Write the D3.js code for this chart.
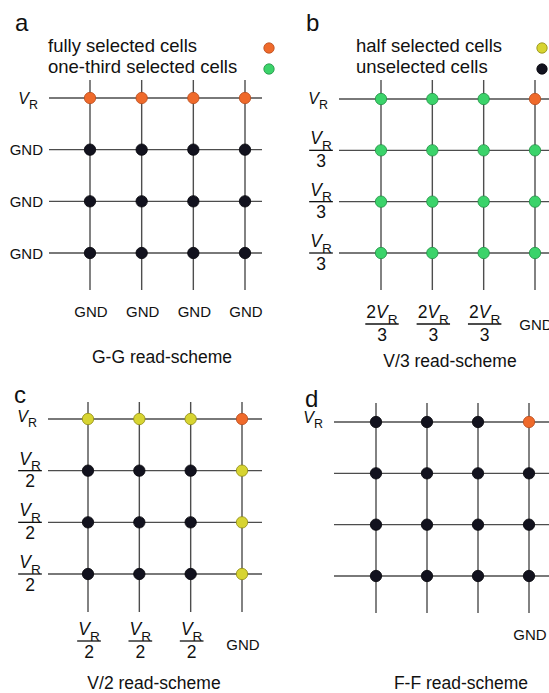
<!DOCTYPE html>
<html>
<head>
<meta charset="utf-8">
<script src="https://cdn.jsdelivr.net/npm/d3@7/dist/d3.min.js"></script>
<style>
  html, body { margin: 0; padding: 0; background: #fff; }
  svg { display: block; font-family: "Liberation Sans", Arial, Helvetica, sans-serif; }
</style>
</head>
<body>
<svg id="chart" width="549" height="693"></svg>
<script>
// Cell states per crossbar: F = fully selected, T = one-third selected,
// H = half selected, U = unselected (rows top to bottom, columns left to right)
const cellsA = ["FFFF", "UUUU", "UUUU", "UUUU"];
const cellsB = ["TTTF", "TTTT", "TTTT", "TTTT"];
const cellsC = ["HHHF", "UUUH", "UUUH", "UUUH"];
const cellsD = ["UUUF", "UUUU", "UUUU", "UUUU"];

// Word-line (row) and bit-line (column) voltages
const rowLabelsA = ["V_R", "GND", "GND", "GND"];
const rowLabelsB = ["V_R", "V_R/3", "V_R/3", "V_R/3"];
const rowLabelsC = ["V_R", "V_R/2", "V_R/2", "V_R/2"];
const rowLabelsD = ["V_R", "", "", ""];
const colLabelsA = ["GND", "GND", "GND", "GND"];
const colLabelsB = ["2V_R/3", "2V_R/3", "2V_R/3", "GND"];
const colLabelsC = ["V_R/2", "V_R/2", "V_R/2", "GND"];
const colLabelsD = ["", "", "", "GND"];

const panelLetters = ["a", "b", "c", "d"];
const schemeTitles = ["G-G read-scheme", "V/3 read-scheme", "V/2 read-scheme", "F-F read-scheme"];

const legendStates = ["F", "T", "H", "U"];
const legendLabels = ["fully selected cells", "one-third selected cells", "half selected cells", "unselected cells"];

// State colours
const stateColor = d3.scaleOrdinal()
  .domain(["F", "T", "H", "U"])
  .range(["#ef6a2b", "#3bd36a", "#d7d431", "#12121e"]);
const stateStroke = d3.scaleOrdinal()
  .domain(["F", "T", "H", "U"])
  .range(["#b84b1c", "#1f8f43", "#8f8b12", "#05050a"]);

const svg = d3.select("#chart");
const LINE = "#4d4d4d";

// Geometry of each crossbar panel
const panels = [
  { cells: cellsA, rows: rowLabelsA, cols: colLabelsA, x: [90, 245], y: [98, 253],
    left: 49, right: 262, top: 80, bottom: 290, vrDy: 6,
    colBar: 324, colText: 317, title: [162, 363], letter: [15, 31] },
  { cells: cellsB, rows: rowLabelsB, cols: colLabelsB, x: [381, 535], y: [99, 253],
    left: 339, right: 570, top: 80, bottom: 290, vrDy: 5,
    colBar: 324, colText: 330, title: [450, 367], letter: [306, 31] },
  { cells: cellsC, rows: rowLabelsC, cols: colLabelsC, x: [88, 242], y: [419, 574],
    left: 48, right: 262, top: 402, bottom: 612, vrDy: 3,
    colBar: 641, colText: 650, title: [154, 689], letter: [14, 403] },
  { cells: cellsD, rows: rowLabelsD, cols: colLabelsD, x: [376, 529], y: [422, 576],
    left: 334, right: 570, top: 403, bottom: 613, vrDy: 1,
    colBar: 641, colText: 640, title: [461, 689], letter: [305, 407] }
];

// Writes an expression such as "V_R" or "2V_R" into a text element
function writeVoltage(text, expr, size) {
  const m = expr.match(/^(\d*)V_R$/);
  if (m[1]) text.append("tspan").text(m[1]);
  text.append("tspan").attr("font-style", "italic").text("V");
  text.append("tspan").attr("font-size", size * 0.78).attr("dy", size * 0.32).text("R");
}

// Draws a label centred on (cx, y); fractions put their bar at y
function drawLabel(g, label, cx, y, opts) {
  if (!label) return;
  const size = opts.size;
  if (label === "GND") {
    g.append("text").attr("x", cx).attr("y", opts.plainY)
      .attr("text-anchor", opts.anchor || "middle")
      .attr("font-size", opts.gndSize).attr("fill", "#111").text("GND");
    return;
  }
  if (label.includes("/")) {
    const [num, den] = label.split("/");
    const t = g.append("text").attr("x", cx).attr("y", y - 6)
      .attr("text-anchor", "middle").attr("font-size", size).attr("fill", "#111");
    writeVoltage(t, num, size);
    const w = t.node().getBBox().width + 2;
    g.append("line").attr("x1", cx - w / 2).attr("x2", cx + w / 2)
      .attr("y1", y).attr("y2", y).attr("stroke", "#111").attr("stroke-width", 1.3);
    g.append("text").attr("x", cx).attr("y", y + 16.5)
      .attr("text-anchor", "middle").attr("font-size", size).attr("fill", "#111").text(den);
    return;
  }
  const t = g.append("text").attr("x", cx).attr("y", y)
    .attr("text-anchor", opts.anchor || "middle").attr("font-size", opts.vrSize).attr("fill", "#111");
  writeVoltage(t, label, opts.vrSize);
}

panels.forEach((p, i) => {
  const g = svg.append("g");
  const x = d3.scalePoint().domain(d3.range(4)).range(p.x);
  const y = d3.scalePoint().domain(d3.range(4)).range(p.y);

  // Word lines and bit lines
  g.selectAll("line.h").data(d3.range(4)).join("line")
    .attr("x1", p.left).attr("x2", p.right)
    .attr("y1", d => y(d)).attr("y2", d => y(d))
    .attr("stroke", LINE).attr("stroke-width", 1.4);
  g.selectAll("line.v").data(d3.range(4)).join("line")
    .attr("x1", d => x(d)).attr("x2", d => x(d))
    .attr("y1", p.top).attr("y2", p.bottom)
    .attr("stroke", LINE).attr("stroke-width", 1.4);

  // Memory cells at each crossing
  const cellData = [];
  p.cells.forEach((row, r) => row.split("").forEach((s, c) => cellData.push({ r, c, s })));
  g.selectAll("circle").data(cellData).join("circle")
    .attr("cx", d => x(d.c)).attr("cy", d => y(d.r)).attr("r", 5.7)
    .attr("fill", d => stateColor(d.s)).attr("stroke", d => stateStroke(d.s)).attr("stroke-width", 0.8);

  // Row voltages
  p.rows.forEach((lab, r) => {
    if (!lab) return;
    if (lab === "GND") {
      g.append("text").attr("x", p.left - 6).attr("y", y(r) + 5.5)
        .attr("text-anchor", "end").attr("font-size", 15).attr("fill", "#111").text("GND");
    } else if (lab.includes("/")) {
      drawLabel(g, lab, p.left - 18, y(r), { size: 17.5 });
    } else {
      drawLabel(g, lab, p.left - 11, y(r) + p.vrDy, { vrSize: 16, anchor: "end" });
    }
  });

  // Column voltages
  p.cols.forEach((lab, c) => {
    drawLabel(g, lab, x(c) + 1, p.colBar, { size: 17.5, gndSize: 15, plainY: p.colText });
  });

  // Scheme title and panel letter
  g.append("text").attr("x", p.title[0]).attr("y", p.title[1])
    .attr("text-anchor", "middle").attr("font-size", 17.5).attr("fill", "#111").text(schemeTitles[i]);
  g.append("text").attr("x", p.letter[0]).attr("y", p.letter[1])
    .attr("font-size", 24).attr("fill", "#111").text(panelLetters[i]);
});

// Legend (two columns, above panels a and b)
const legendPos = [
  { tx: 48, dx: 269, y: 52 }, { tx: 48, dx: 269, y: 73 },
  { tx: 356, dx: 542, y: 52 }, { tx: 356, dx: 542, y: 73 }
];
const legend = svg.append("g");
legendStates.forEach((s, i) => {
  const lp = legendPos[i];
  legend.append("text").attr("x", lp.tx).attr("y", lp.y)
    .attr("font-size", 18.5).attr("fill", "#111").text(legendLabels[i]);
  legend.append("circle").attr("cx", lp.dx).attr("cy", lp.y - 4).attr("r", 5.2)
    .attr("fill", stateColor(s)).attr("stroke", stateStroke(s)).attr("stroke-width", 0.8);
});
</script>
</body>
</html>
